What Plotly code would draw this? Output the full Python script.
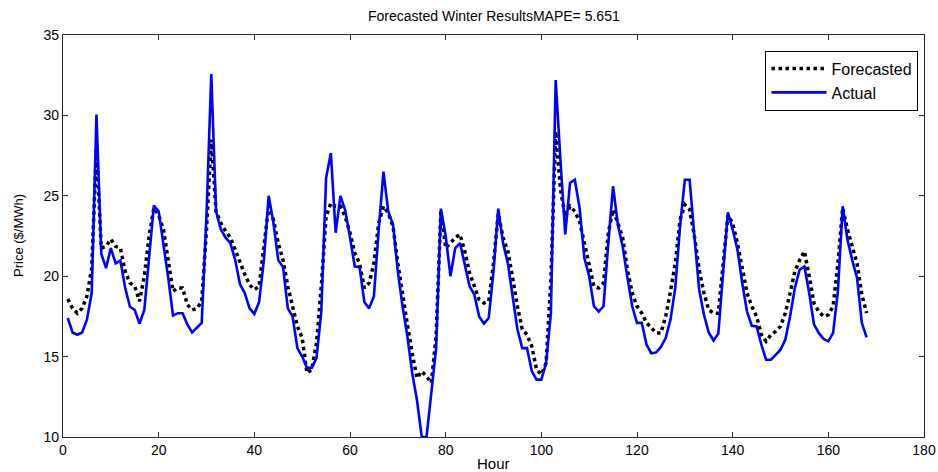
import plotly.graph_objects as go

hours = list(range(1, 169))

actual = [
    17.4, 16.5, 16.36, 16.5, 17.3, 18.95, 30.05, 21.4, 20.5, 21.75,
    20.8, 20.97, 19.27, 18.1, 17.9, 17.05, 17.9, 21.0, 24.4, 24.03,
    22.06, 19.9, 17.55, 17.7, 17.7, 17.0, 16.5, 16.8, 17.1, 23.8,
    32.57, 24.03, 22.9, 22.4, 22.06, 21.0, 19.5, 18.95, 18.0, 17.65,
    18.4, 21.0, 25.0, 23.3, 21.0, 20.57, 18.0, 17.5, 15.53, 15.0,
    14.3, 14.3, 14.9, 17.8, 26.1, 27.66, 22.7, 25.0, 24.1, 22.4,
    20.6, 20.57, 18.4, 18.0, 18.75, 22.9, 26.5, 24.03, 23.2, 20.3,
    18.1, 16.26, 13.98, 12.3, 10.0, 10.0, 12.9, 15.5, 24.2, 22.5,
    20.0, 21.75, 22.06, 20.8, 19.37, 18.85, 17.5, 17.05, 17.4, 20.3,
    24.2, 22.06, 20.8, 18.75, 16.7, 15.53, 15.53, 14.1, 13.57, 13.57,
    14.6, 17.7, 32.2, 27.2, 22.6, 25.8, 26.0, 24.24, 21.13, 20.0,
    18.13, 17.8, 18.13, 22.06, 25.6, 23.2, 21.86, 19.9, 18.13, 17.1,
    17.1, 15.74, 15.2, 15.26, 15.6, 16.15, 17.3, 19.27, 23.1, 26.0,
    26.0, 22.5, 19.16, 17.6, 16.5, 16.0, 16.43, 20.2, 23.97, 22.9,
    21.65, 19.58, 17.8, 16.92, 16.88, 15.74, 14.8, 14.8, 15.12, 15.43,
    16.05, 17.5, 19.27, 20.4, 20.6, 18.95, 17.0, 16.47, 16.1, 15.95,
    16.47, 19.06, 24.35, 22.27, 21.0, 19.9, 17.1, 16.2,
]

forecasted = [
    18.58, 18.0, 17.7, 18.0, 18.75, 20.5, 28.0, 21.75, 21.86, 22.3,
    21.86, 21.75, 20.3, 19.58, 19.37, 18.44, 20.0, 22.5, 24.24, 23.8,
    22.9, 21.0, 19.06, 19.27, 19.27, 18.23, 17.9, 18.0, 18.44, 22.9,
    28.5, 24.03, 23.3, 22.8, 22.4, 21.65, 20.8, 20.1, 19.47, 19.16,
    19.37, 21.86, 24.35, 23.5, 22.06, 21.0, 19.37, 18.13, 16.88, 16.16,
    13.98, 14.2, 15.85, 19.37, 23.7, 24.55, 24.35, 24.35, 23.7, 22.7,
    21.44, 20.8, 19.27, 19.58, 20.8, 23.3, 24.35, 23.93, 23.1, 20.8,
    18.75, 16.99, 15.22, 13.67, 14.08, 13.77, 13.36, 16.26, 24.03, 21.75,
    22.06, 22.4, 22.6, 21.55, 20.2, 19.37, 18.54, 18.33, 18.44, 20.8,
    23.9, 22.4, 21.55, 19.9, 18.13, 16.7, 16.36, 15.64, 14.2, 13.88,
    14.6, 19.8, 29.0, 25.4, 23.7, 24.35, 24.03, 23.4, 22.06, 20.8,
    19.37, 19.27, 19.58, 22.7, 24.14, 23.3, 22.4, 20.4, 18.95, 18.13,
    17.7, 17.1, 16.78, 16.47, 16.47, 17.5, 19.06, 20.8, 23.5, 24.45,
    24.14, 22.5, 20.4, 18.95, 17.9, 17.7, 17.7, 20.8, 23.8, 23.3,
    22.06, 20.5, 18.95, 18.13, 17.5, 16.36, 15.95, 16.36, 16.57, 16.88,
    17.7, 18.95, 20.3, 21.0, 21.55, 20.0, 18.33, 17.8, 17.5, 17.6,
    18.13, 20.8, 24.24, 22.9, 21.86, 20.8, 18.85, 17.7,
]

x_ticks = [0, 20, 40, 60, 80, 100, 120, 140, 160, 180]
y_ticks = [10, 15, 20, 25, 30, 35]

FONT = "Liberation Sans, Arial, sans-serif"

fig = go.Figure()
fig.add_trace(go.Scatter(
    x=hours, y=forecasted, mode="lines", name="Forecasted",
    line=dict(color="black", width=3.5, dash="dot"),
))
fig.add_trace(go.Scatter(
    x=hours, y=actual, mode="lines", name="Actual",
    line=dict(color="#0000FF", width=2.6),
))

axis_common = dict(
    showline=True, linecolor="#222222", linewidth=1.2, mirror="ticks",
    ticks="inside", ticklen=5, tickcolor="#222222", tickwidth=1,
    showgrid=False, zeroline=False,
    tickfont=dict(family=FONT, size=14, color="black"),
)

fig.update_layout(
    width=938, height=472,
    margin=dict(l=63, r=14, t=35, b=35),
    paper_bgcolor="white", plot_bgcolor="white",
    font=dict(family=FONT, size=14, color="black"),
    xaxis=dict(range=[0, 180], tickvals=x_ticks, automargin=False, **axis_common),
    yaxis=dict(range=[10, 35], tickvals=y_ticks, automargin=False, **axis_common),
    legend=dict(
        x=0.9936, y=0.961, xanchor="right", yanchor="top",
        bgcolor="white", bordercolor="black", borderwidth=1,
        font=dict(family=FONT, size=16, color="black"),
        itemwidth=55, tracegroupgap=0,
    ),
    showlegend=True,
    annotations=[
        dict(text="Forecasted Winter ResultsMAPE= 5.651", xref="paper", yref="paper",
             x=0.5, y=1, yshift=19, showarrow=False, xanchor="center", yanchor="middle",
             font=dict(family=FONT, size=14, color="black")),
        dict(text="Hour", xref="paper", yref="paper",
             x=0.5, y=0, yshift=-26, showarrow=False, xanchor="center", yanchor="middle",
             font=dict(family=FONT, size=15, color="black")),
        dict(text="Price ($/MWh)", xref="paper", yref="paper",
             x=0, y=0.5, xshift=-45, showarrow=False, xanchor="center", yanchor="middle",
             textangle=-90, font=dict(family=FONT, size=13, color="black")),
    ],
)

fig.write_html(
    "out.html",
    config={"displayModeBar": False},
    post_script="document.body.style.margin='0';document.body.style.overflow='hidden';",
)
